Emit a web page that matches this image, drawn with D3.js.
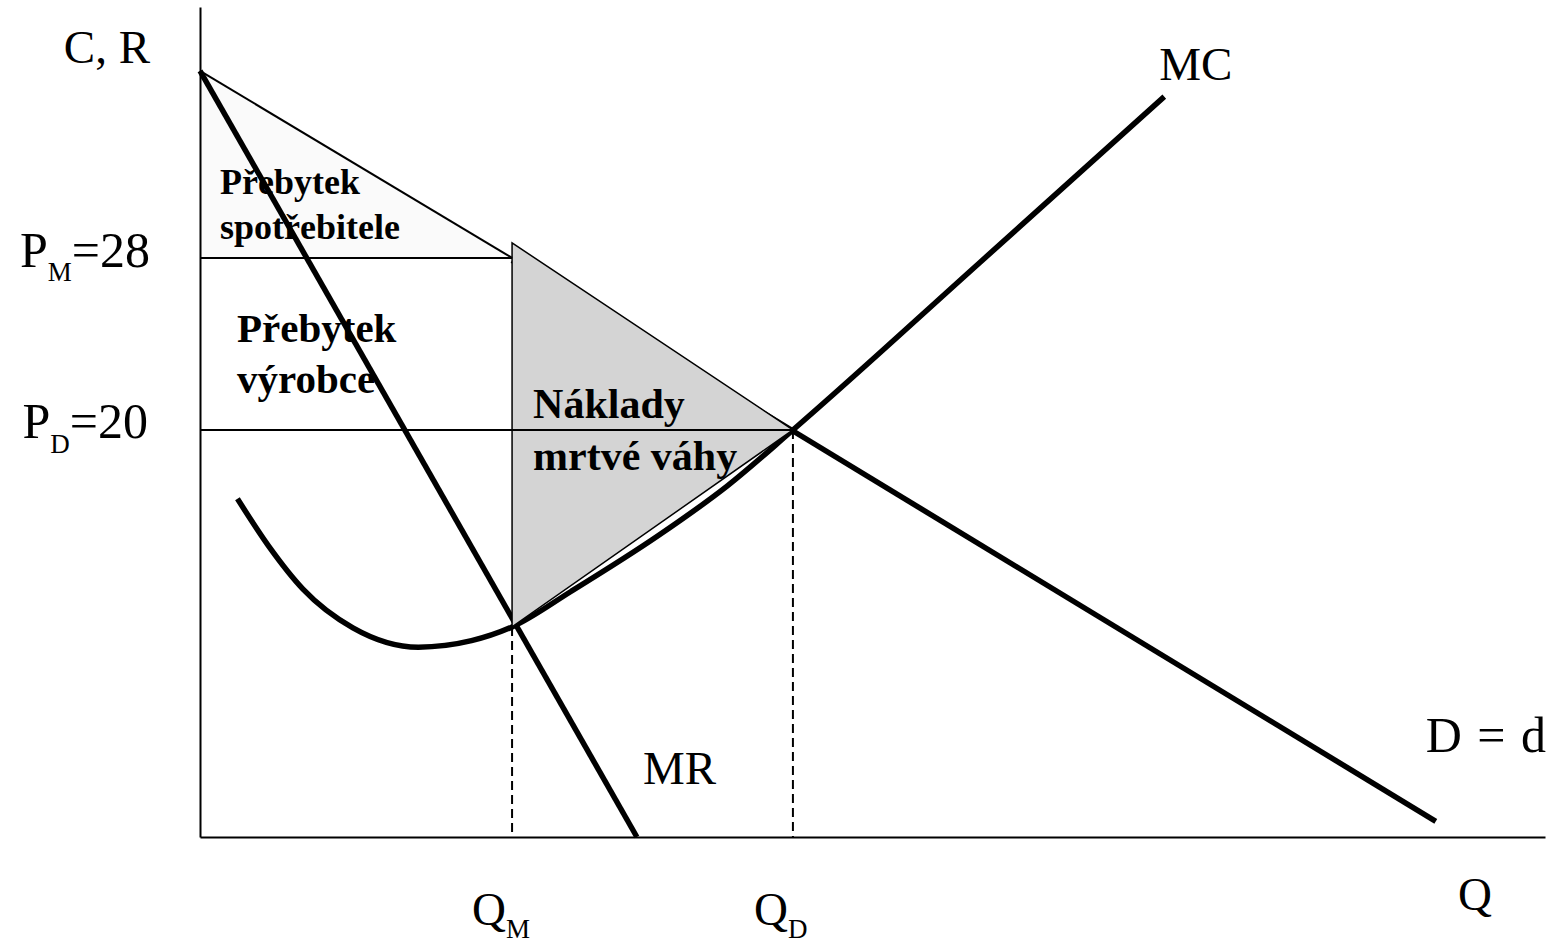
<!DOCTYPE html>
<html>
<head>
<meta charset="utf-8">
<script src="https://cdn.jsdelivr.net/npm/d3@7"></script>
<style>
  html, body { margin: 0; padding: 0; background: #fff; }
  svg { display: block; }
  text { font-family: "Liberation Serif", "Times New Roman", serif; fill: #000; }
  .bold { font-weight: bold; }
</style>
</head>
<body>
<svg id="chart" width="1553" height="944"></svg>
<script>
// ---- data (economic units: Q = quantity, P = price) ----
const axisQ = [0, 43.1];           // horizontal axis extent
const axisP = [1.07, 39.67];       // vertical axis extent
const PM = 28, PD = 20;            // monopoly / competitive price
const QM = 10, QD = 19;            // monopoly / competitive quantity

const demandQ = [0, 39.6];
const demandP = [36.7, 1.8];

const mrQ = [0, 14.0];
const mrP = [36.7, 1.07];

const mcQ = [1.2, 2.2, 3.3, 4.9, 7.0, 8.7, 10.0, 11.9, 14.7, 16.9, 19.0, 25.0, 30.9];
const mcP = [16.8, 14.6, 12.6, 10.8, 9.9, 10.2, 10.84, 12.5, 15.1, 17.4, 20.0, 27.8, 35.5];

const csQ = [0, 10, 0];            // consumer surplus triangle
const csP = [36.7, 28, 28];

const dwlQ = [10, 19, 10];         // deadweight loss triangle
const dwlP = [28.7, 20, 10.84];

const labels = {
  axisY: "C, R", axisX: "Q", mc: "MC", mr: "MR", demand: "D = d",
  cs: ["Přebytek", "spotřebitele"], ps: ["Přebytek", "výrobce"], dwl: ["Náklady", "mrtvé váhy"]
};

// ---- scales ----
const x = d3.scaleLinear().domain(axisQ).range([200, 1545]);
const y = d3.scaleLinear().domain(axisP).range([837, 7]);

const svg = d3.select("#chart");
const line = d3.line().x(d => x(d[0])).y(d => y(d[1]));
const zip = (a, b) => a.map((v, i) => [v, b[i]]);

const demandAt = q => demandP[0] + (demandP[1] - demandP[0]) * (q - demandQ[0]) / (demandQ[1] - demandQ[0]);

// consumer surplus fill
svg.append("path").attr("d", line(zip(csQ, csP)) + "Z")
  .attr("fill", "#fafafa").attr("stroke", "none");

// labels under curves
const csT = svg.append("text").attr("class", "bold").style("font-size", "36px");
csT.append("tspan").attr("x", x(0) + 20).attr("y", 194).text(labels.cs[0]);
csT.append("tspan").attr("x", x(0) + 20).attr("y", 239).text(labels.cs[1]);

const psT = svg.append("text").attr("class", "bold").style("font-size", "41px");
psT.append("tspan").attr("x", x(0) + 37).attr("y", 342).text(labels.ps[0]);
psT.append("tspan").attr("x", x(0) + 37).attr("y", 393).text(labels.ps[1]);

// MC curve
svg.append("path").attr("d", line.curve(d3.curveMonotoneX)(zip(mcQ, mcP)))
  .attr("fill", "none").attr("stroke", "#000").attr("stroke-width", 5.5);
line.curve(d3.curveLinear);

// demand (thick part)
svg.append("path").attr("d", line([[QM, demandAt(QM)], [demandQ[1], demandP[1]]]))
  .attr("fill", "none").attr("stroke", "#000").attr("stroke-width", 5.5);

// MR
svg.append("path").attr("d", line(zip(mrQ, mrP)))
  .attr("fill", "none").attr("stroke", "#000").attr("stroke-width", 5.5);

// deadweight loss triangle
svg.append("path").attr("d", line(zip(dwlQ, dwlP)) + "Z")
  .attr("fill", "#d4d4d4").attr("stroke", "#000").attr("stroke-width", 1.5);

// thin demand edge of consumer surplus
svg.append("path").attr("d", line([[csQ[0], csP[0]], [csQ[1], csP[1]]]))
  .attr("fill", "none").attr("stroke", "#000").attr("stroke-width", 2);

// price lines
svg.append("path").attr("d", line([[0, PM], [QM, PM]]))
  .attr("stroke", "#000").attr("stroke-width", 2);
svg.append("path").attr("d", line([[0, PD], [QD, PD]]))
  .attr("stroke", "#000").attr("stroke-width", 2);

// dashed quantity lines
svg.append("path").attr("d", line([[QM, dwlP[2]], [QM, axisP[0]]]))
  .attr("stroke", "#000").attr("stroke-width", 2).attr("stroke-dasharray", "9,5");
svg.append("path").attr("d", line([[QD, PD], [QD, axisP[0]]]))
  .attr("stroke", "#000").attr("stroke-width", 2).attr("stroke-dasharray", "9,5");

// axes
svg.append("g").attr("transform", `translate(0,${y(axisP[0])})`)
  .call(d3.axisBottom(x).tickValues([]).tickSizeOuter(0));
svg.append("g").attr("transform", `translate(${x(0)},0)`)
  .call(d3.axisLeft(y).tickValues([]).tickSizeOuter(0));
svg.selectAll(".domain").attr("stroke", "#000").attr("stroke-width", 2);

// deadweight loss label
const dwlT = svg.append("text").attr("class", "bold").style("font-size", "42px");
dwlT.append("tspan").attr("x", x(QM) + 21).attr("y", 418).text(labels.dwl[0]);
dwlT.append("tspan").attr("x", x(QM) + 21).attr("y", 470).text(labels.dwl[1]);

// axis and curve labels
const big = "47px", sub = "27px";
svg.append("text").attr("x", 150).attr("y", 63).attr("text-anchor", "end")
  .style("font-size", big).text(labels.axisY);

function subLabel(xp, yp, main, s, tail, anchor, dy, size) {
  const t = svg.append("text").attr("x", xp).attr("y", yp).attr("text-anchor", anchor).style("font-size", size || big);
  t.append("tspan").text(main);
  t.append("tspan").attr("dy", dy).style("font-size", sub).text(s);
  if (tail) t.append("tspan").attr("dy", -dy).text(tail);
}
subLabel(150, y(PM) + 9, "P", "M", "=" + PM, "end", 14, "50px");
subLabel(148, y(PD) + 8, "P", "D", "=" + PD, "end", 15, "50px");
subLabel(x(QM) - 40, 925, "Q", "M", null, "start", 13);
subLabel(x(QD) - 39, 925, "Q", "D", null, "start", 13);

svg.append("text").attr("x", x(mcQ[mcQ.length - 1]) - 5).attr("y", 80)
  .style("font-size", big).text(labels.mc);
svg.append("text").attr("x", x(mrQ[1]) + 6).attr("y", 784)
  .style("font-size", big).text(labels.mr);
svg.append("text").attr("x", 1546).attr("y", 752).attr("text-anchor", "end")
  .style("font-size", "50px").style("word-spacing", "3px").text(labels.demand);
svg.append("text").attr("x", 1458).attr("y", 910)
  .style("font-size", big).text(labels.axisX);
</script>
</body>
</html>
